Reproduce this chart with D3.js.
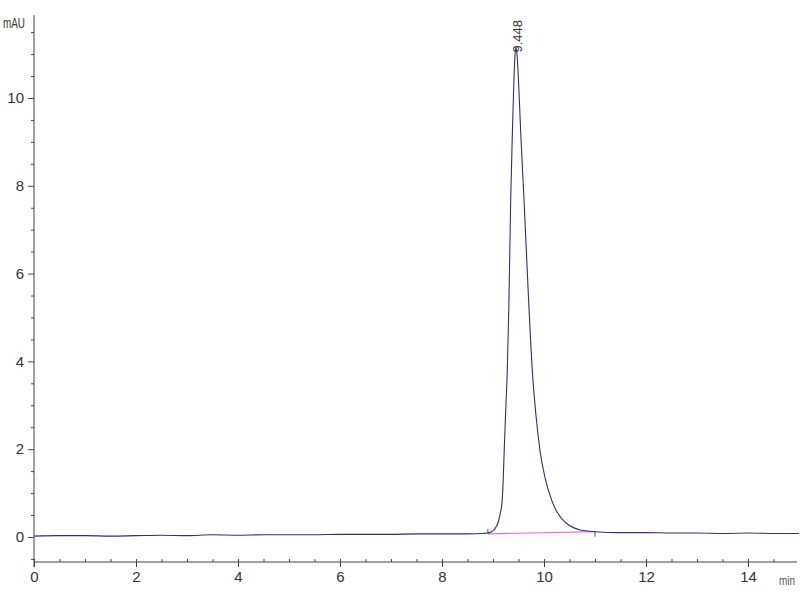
<!DOCTYPE html>
<html>
<head>
<meta charset="utf-8">
<script src="https://cdn.jsdelivr.net/npm/d3@7"></script>
<style>
  body { margin: 0; background: #fff; }
  svg { display: block; }
  .axis path, .axis line { stroke: #444; }
  .axis text { font-family: "Liberation Sans Narrow", "Arial Narrow", "Liberation Sans", sans-serif; font-size: 15px; fill: #333; }
</style>
</head>
<body>
<div id="chart"></div>
<script>
// retention time (min) and absorbance (mAU)
const times = [0, 0.5, 1.0, 1.5, 2.0, 2.5, 3.0, 3.5, 4.0, 4.5, 5.0, 5.5, 6.0, 6.5, 7.0, 7.5, 8.0, 8.5, 8.8, 8.9,
    8.97, 9.02, 9.06, 9.1, 9.14, 9.18, 9.20, 9.22, 9.25, 9.28, 9.31, 9.347, 9.38, 9.41, 9.43, 9.448, 9.47, 9.50, 9.54,
    9.608, 9.69, 9.77, 9.84, 9.92, 10.03, 10.15, 10.25, 10.37, 10.5, 10.71, 10.9, 11.0, 11.5, 12.0, 12.5, 13.0, 13.5,
    14.0, 14.5, 15.0]
const signal = [0.02, 0.03, 0.03, 0.02, 0.03, 0.04, 0.03, 0.05, 0.04, 0.05, 0.05, 0.05, 0.06, 0.06, 0.06, 0.07, 0.07, 0.07, 0.08, 0.09,
    0.12, 0.16, 0.23, 0.33, 0.52, 0.84, 1.3, 1.98, 2.9, 3.8, 5.2, 7.68, 9.2, 10.4, 10.95, 11.15, 11.0, 10.4, 9.3,
    7.68, 5.6, 3.8, 2.8, 1.98, 1.3, 0.84, 0.58, 0.39, 0.26, 0.16, 0.13, 0.12, 0.1, 0.1, 0.09, 0.09, 0.08,
    0.09, 0.08, 0.08]

// integration baseline under the peak
const baseTimes = [8.9, 11.0]
const baseValues = [0.07, 0.12]

const peakTime = 9.448
const peakHeight = 11.15

const xMajor = [0, 2, 4, 6, 8, 10, 12, 14]
const yMajor = [0, 2, 4, 6, 8, 10]

const width = 800, height = 600
const svg = d3.select("#chart").append("svg")
    .attr("width", width)
    .attr("height", height)

const x = d3.scaleLinear().domain([0, 15]).range([34, 799])
const y = d3.scaleLinear().domain([-0.57, 11.89]).range([562, 15])

const data = times.map((t, i) => ({ t, v: signal[i] }))

// axes
const yMinor = d3.range(-0.5, 11.51, 0.5).filter(d => !yMajor.includes(d))
const xMinor = d3.range(0.5, 15, 0.5).filter(d => !xMajor.includes(d))

svg.append("g")
    .attr("class", "axis")
    .attr("transform", `translate(${x(0)},0)`)
    .call(d3.axisLeft(y).tickValues(yMinor).tickSize(3).tickFormat(""))
    .call(g => g.select(".domain").remove())

svg.append("g")
    .attr("class", "axis")
    .attr("transform", `translate(${x(0)},0)`)
    .call(d3.axisLeft(y).tickValues(yMajor).tickSize(6).tickPadding(4).tickFormat(d3.format("d")))
    .call(g => g.select(".domain").remove())

svg.append("line")
    .attr("x1", x(0)).attr("x2", x(0))
    .attr("y1", 15).attr("y2", 567)
    .attr("stroke", "#444")

svg.append("g")
    .attr("class", "axis")
    .attr("transform", `translate(0,${y.range()[0] - 3})`)
    .call(d3.axisBottom(x).tickValues(xMinor).tickSize(3).tickFormat(""))
    .call(g => g.select(".domain").remove())

svg.append("g")
    .attr("class", "axis")
    .attr("transform", `translate(0,${y.range()[0] - 3})`)
    .call(d3.axisBottom(x).tickValues(xMajor).tickSize(8).tickPadding(4).tickFormat(d3.format("d")))
    .call(g => g.select(".domain").remove())

svg.append("line")
    .attr("x1", x(0)).attr("x2", 797)
    .attr("y1", 562).attr("y2", 562)
    .attr("stroke", "#444")

svg.append("text")
    .attr("x", 3).attr("y", 28)
    .style("font-family", "'Liberation Sans Narrow', 'Arial Narrow', sans-serif")
    .style("font-size", "14px")
    .attr("textLength", 22)
    .attr("lengthAdjust", "spacingAndGlyphs")
    .attr("fill", "#333")
    .text("mAU")

svg.append("text")
    .attr("x", 779).attr("y", 585)
    .style("font-family", "'Liberation Sans Narrow', 'Arial Narrow', sans-serif")
    .style("font-size", "13px")
    .attr("textLength", 16)
    .attr("lengthAdjust", "spacingAndGlyphs")
    .attr("fill", "#555")
    .text("min")

// baseline (pink)
svg.append("line")
    .attr("x1", x(baseTimes[0])).attr("y1", y(baseValues[0]))
    .attr("x2", x(baseTimes[1])).attr("y2", y(baseValues[1]))
    .attr("stroke", "#e070e0")
    .attr("stroke-width", 1.2)

// start / end tick marks of integration
svg.append("line")
    .attr("x1", x(baseTimes[0])).attr("x2", x(baseTimes[0]))
    .attr("y1", y(baseValues[0]) - 5).attr("y2", y(baseValues[0]))
    .attr("stroke", "#555")
svg.append("line")
    .attr("x1", x(baseTimes[1])).attr("x2", x(baseTimes[1]))
    .attr("y1", y(baseValues[1])).attr("y2", y(baseValues[1]) + 5)
    .attr("stroke", "#555")

// trace
const line = d3.line()
    .curve(d3.curveMonotoneX)
    .x(d => x(d.t))
    .y(d => y(d.v))

svg.append("path")
    .datum(data)
    .attr("d", line)
    .attr("fill", "none")
    .attr("stroke", "#2f2f7a")
    .attr("stroke-width", 1.1)

// peak label
svg.append("text")
    .attr("transform", `translate(${x(peakTime) + 6},${y(peakHeight) + 5}) rotate(-90)`)
    .style("font-family", "'Liberation Sans', Arial, sans-serif")
    .style("font-size", "13px")
    .attr("fill", "#333")
    .text("9.448")
</script>
</body>
</html>
